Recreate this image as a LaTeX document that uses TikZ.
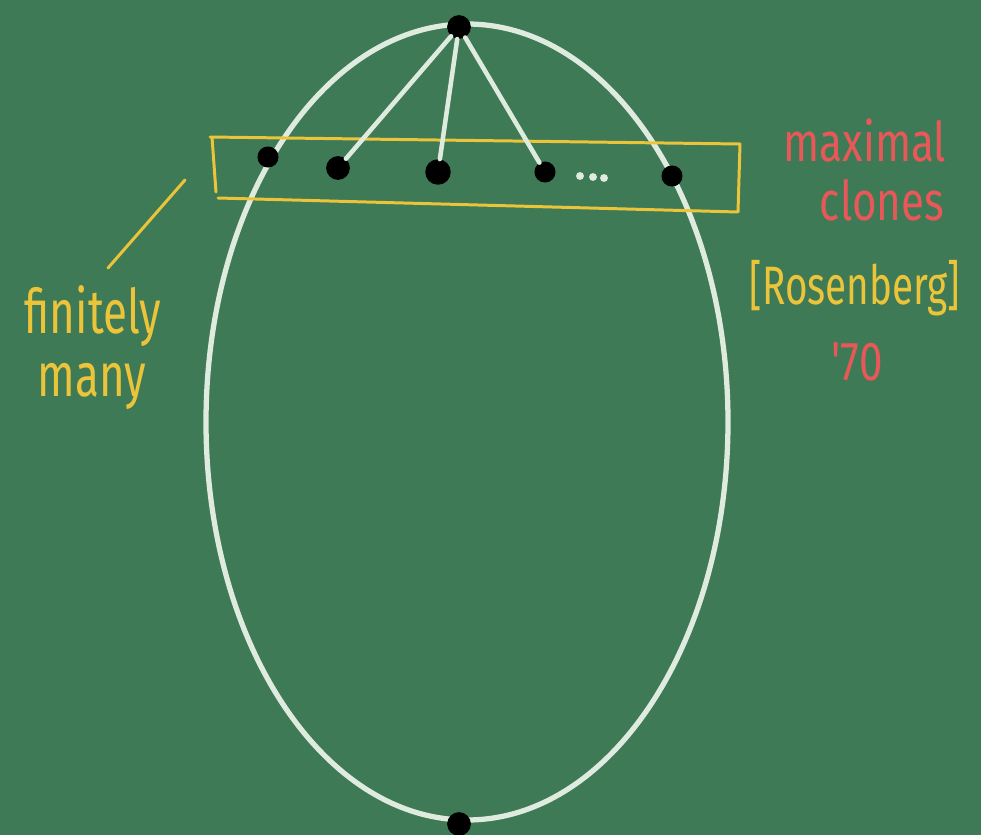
\documentclass[tikz,border=0pt]{standalone}
\usepackage{graphicx}
\usepackage{fontspec}
\setmainfont{Fira Sans}
\definecolor{board}{RGB}{62,122,86}
\definecolor{chalk}{RGB}{222,235,222}
\definecolor{cyellow}{RGB}{236,196,58}
\definecolor{cred}{RGB}{232,88,88}
\tikzset{
  dot/.style={circle,fill=black,inner sep=0pt,minimum size=13.5pt},
  smalldot/.style={circle,fill=chalk,inner sep=0pt,minimum size=4.5pt},
  wline/.style={draw=chalk,line width=2.6pt,line cap=round},
  yline/.style={draw=cyellow,line width=1.7pt,line cap=round,line join=round},
  ytext/.style={text=cyellow,inner sep=0pt},
  rtext/.style={text=cred,inner sep=0pt},
}
\begin{document}
\begin{tikzpicture}[x=0.02cm,y=-0.02cm]
\fill[board] (0,0) rectangle (981,835);
\useasboundingbox (0,0) rectangle (981,835);
% big ellipse
\draw[chalk,line width=3pt] (467,422) ellipse [x radius=261,y radius=398];
% yellow box
\draw[yline] (210,137) -- (740,144) -- (738,212) -- (218,198) (212,137) -- (216,192);
% pointer line
\draw[yline] (185,180) -- (108,268);
% nodes
\node[dot] (top) at (459,27) {};
\node[dot] (bot) at (459,824) {};
\node[dot,minimum size=12pt] (m1) at (268,157) {};
\node[dot] (m2) at (338,168) {};
\node[dot,minimum size=14.5pt] (m3) at (438,172) {};
\node[dot,minimum size=12pt] (m4) at (545,172) {};
\node[dot,minimum size=12pt] (m5) at (672,176) {};
\node[smalldot] (d1) at (580,176) {};
\node[smalldot] (d2) at (593,177) {};
\node[smalldot] (d3) at (604,178) {};
\draw[wline] (top) -- (m2);
\draw[wline] (top) -- (m3);
\draw[wline] (top) -- (m4);
% texts
\node[ytext] (fin) at (93,316) {\scalebox{1}[1.4]{\fontsize{25}{30}\selectfont finitely}};
\node[ytext] (many) at (92,386) {\scalebox{1}[1.4]{\fontsize{25}{30}\selectfont many}};
\node[rtext] (maxi) at (865,140) {\scalebox{1}[1.3]{\fontsize{24}{28}\selectfont maximal}};
\node[rtext] (clon) at (882,200) {\scalebox{1}[1.3]{\fontsize{24}{28}\selectfont clones}};
\node[ytext] (ros) at (855,288) {\scalebox{1}[1.4]{\fontsize{22}{26}\selectfont [Rosenberg]}};
\node[rtext] (yr) at (857,362) {\scalebox{1}[1.3]{\fontsize{24}{28}\selectfont \textquotesingle 70}};
\end{tikzpicture}
\end{document}
